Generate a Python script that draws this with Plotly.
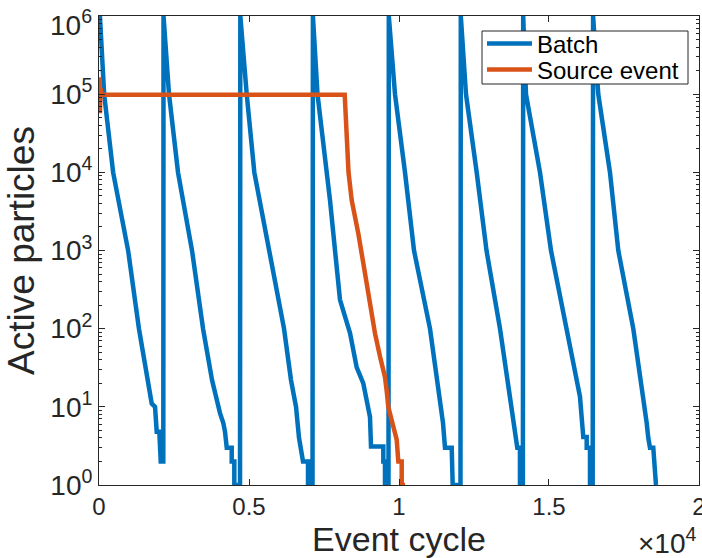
import plotly.graph_objects as go

# ---- Batch series: one list pair per batch cycle (event cycle, active particles)
c1_x = [30, 170, 470, 970, 1330, 1757, 1867, 1923, 2010, 2057, 2143]
c1_y = [1e6, 1e5, 1e4, 1e3, 100, 11, 10, 4.8, 4.8, 2, 2]
c2_x = [2150, 2333, 2633, 3100, 3467, 3767, 3957, 4033, 4143, 4200, 4257, 4423, 4423, 4510, 4510, 4700]
c2_y = [1e6, 1e5, 1e4, 1e3, 100, 22, 10, 8.3, 6.2, 4.8, 3, 3, 2, 2, 1, 1]
c3_x = [4710, 4923, 5177, 5667, 6167, 6400, 6567, 6667, 6800, 6967, 6967, 7117]
c3_y = [1e6, 1e5, 1e4, 1e3, 100, 22, 10, 4, 2, 2, 1, 1]
c4_x = [7130, 7283, 7600, 7700, 7867, 8033, 8367, 8590, 8810, 9033, 9067, 9477, 9477, 9533, 9533, 9650]
c4_y = [1e6, 1e5, 1e4, 4400, 1e3, 234, 88, 32, 20, 7.4, 3.1, 3.1, 2, 2, 1, 1]
c5_x = [9660, 9867, 10200, 10500, 11033, 11423, 11467, 11533, 11757, 11790, 12050]
c5_y = [1e6, 1e5, 1e4, 1e3, 100, 10, 6.2, 3, 3, 1, 1]
c6_x = [12060, 12233, 12590, 12917, 13367, 13757, 13867, 13943, 14033, 14033, 14130]
c6_y = [1e6, 1e5, 1e4, 1e3, 100, 10, 5, 3, 3, 1, 1]
c7_x = [14140, 14233, 14700, 15067, 15567, 16033, 16143, 16257, 16257, 16367, 16367, 16457]
c7_y = [1e6, 1e5, 1e4, 1e3, 100, 13.5, 4.1, 4.1, 3, 3, 1, 1]
c8_x = [16470, 16643, 17033, 17310, 17810, 18200, 18257, 18310, 18367, 18477, 18500, 18567]
c8_y = [1e6, 1e5, 1e4, 1e3, 100, 10, 6.2, 4, 3, 3, 2, 1]

# ---- Source event series
src_x = [0, 15, 30, 50, 80, 8190, 8257, 8317, 8423, 8643, 8867, 8977, 9090, 9200,
         9367, 9533, 9590, 9643, 9810, 9923, 9977, 10090, 10090, 10200]
src_y = [1e5, 1.65e5, 5.7e4, 1.2e5, 9.8e4, 9.8e4, 1.9e4, 1e4, 4400, 1655, 510, 283, 173, 87,
         44, 24, 16, 10, 5.6, 3.8, 2, 2, 1, 1]

# ---- Axis ticks
x_tickvals = [0, 5000, 10000, 15000, 20000]
x_ticktext = ["0", "0.5", "1", "1.5", "2"]
y_tickvals = [1, 10, 100, 1000, 10000, 100000, 1000000]
y_ticktext = ["10<sup>0</sup>", "10<sup>1</sup>", "10<sup>2</sup>", "10<sup>3</sup>",
              "10<sup>4</sup>", "10<sup>5</sup>", "10<sup>6</sup>"]
y_minor = [m * d for d in [1, 10, 100, 1000, 10000, 100000] for m in range(2, 10)]

batch_x = c1_x + c2_x + c3_x + c4_x + c5_x + c6_x + c7_x + c8_x
batch_y = c1_y + c2_y + c3_y + c4_y + c5_y + c6_y + c7_y + c8_y

FONT = "Liberation Sans, Arial, Helvetica, sans-serif"
AX = "#262626"

# plot area in pixels: x 99..699, y 16..485
def px(p):
    return (p - 99) / 600.0

def py(p):
    return (485 - p) / 469.0

fig = go.Figure()
fig.add_trace(go.Scatter(x=batch_x, y=batch_y, mode="lines", name="Batch",
                         line=dict(color="#0072BD", width=4.5), legend="legend"))
fig.add_trace(go.Scatter(x=src_x, y=src_y, mode="lines", name="Source event",
                         line=dict(color="#D95319", width=4.5), legend="legend2"))

leg_common = dict(xanchor="left", yanchor="middle", bgcolor="rgba(0,0,0,0)",
                  borderwidth=0, font=dict(size=24, color="black", family=FONT),
                  itemwidth=45)

# the top tick label (10^6) is shown slightly lowered, as in the reference,
# so it is drawn as an annotation anchored on the 1e6 tick
axis_ticktext = y_ticktext[:-1] + [""]

fig.update_layout(
    width=702, height=558,
    margin=dict(l=99, r=3, t=16, b=73, autoexpand=False),
    paper_bgcolor="white", plot_bgcolor="white",
    font=dict(family=FONT, color=AX),
    showlegend=True,
    legend=dict(x=px(482), y=py(44), **leg_common),
    legend2=dict(x=px(482), y=py(70), **leg_common),
    shapes=[dict(type="rect", xref="paper", yref="paper",
                 x0=px(482), x1=px(688), y0=py(84), y1=py(31),
                 line=dict(color=AX, width=1), fillcolor="white", layer="above")],
    xaxis=dict(range=[-1, 20001], tickvals=x_tickvals, ticktext=x_ticktext,
               ticks="inside", ticklen=6, tickcolor=AX, tickwidth=1,
               showline=True, linecolor=AX, linewidth=1, mirror="ticks",
               showgrid=False, zeroline=False, ticklabeloverflow="allow",
               tickfont=dict(size=24, color=AX, family=FONT),
               title=dict(text="Event cycle", font=dict(size=34, color=AX, family=FONT),
                          standoff=2)),
    yaxis=dict(type="log", range=[-0.0002, 6.0002], tickvals=y_tickvals, ticktext=axis_ticktext,
               ticks="inside", ticklen=6, tickcolor=AX, tickwidth=1,
               minor=dict(tickvals=y_minor, ticks="inside", ticklen=3, tickcolor=AX, tickwidth=1),
               showline=True, linecolor=AX, linewidth=1, mirror="ticks",
               showgrid=False, zeroline=False, ticklabeloverflow="allow",
               tickfont=dict(size=28, color=AX, family=FONT),
               title=dict(text="Active particles", font=dict(size=37, color=AX, family=FONT),
                          standoff=4)),
    annotations=[
        dict(text="×10<sup>4</sup>", xref="paper", yref="paper",
             x=1.0, y=-0.162, xanchor="right", yanchor="bottom",
             showarrow=False, font=dict(size=28, color=AX, family=FONT)),
        dict(text=y_ticktext[-1], xref="paper", yref="y",
             x=0.0, y=6, xanchor="right", yanchor="middle", xshift=-5, yshift=-7,
             showarrow=False, font=dict(size=28, color=AX, family=FONT)),
    ],
)

fig.write_html("out.html")
